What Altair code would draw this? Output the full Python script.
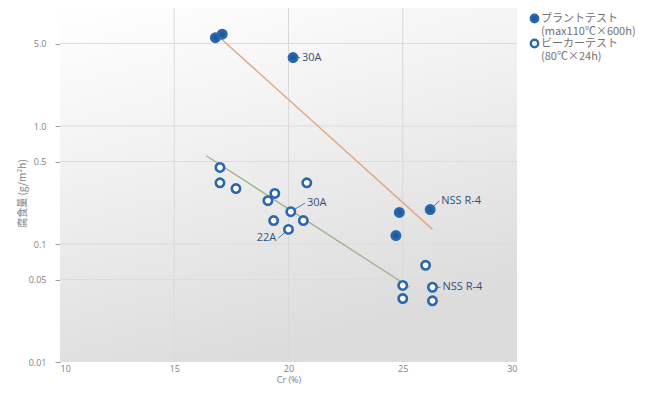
import altair as alt
import pandas as pd

W, H = 457, 354

# ---- data ----
series_names = ["プラントテスト|(max110℃×600h)", "ビーカーテスト|(80℃×24h)"]

plant_cr = [16.8, 17.1, 20.2, 24.85, 26.2, 24.7]
plant_loss = [5.6, 6.0, 3.8, 0.185, 0.196, 0.118]

beaker_cr = [17.0, 17.0, 17.7, 19.1, 19.4, 20.8, 20.1, 19.35, 20.65, 20.0,
             26.0, 25.0, 25.0, 26.3, 26.3]
beaker_loss = [0.445, 0.33, 0.295, 0.233, 0.268, 0.33, 0.188, 0.158, 0.158, 0.133,
               0.066, 0.0445, 0.0345, 0.043, 0.033]

trend_series = [series_names[0], series_names[0], series_names[1], series_names[1]]
trend_cr = [17.0, 26.3, 16.4, 25.3]
trend_loss = [5.6, 0.133, 0.56, 0.043]

ann_label = ["30A", "30A", "22A", "NSS R-4", "NSS R-4"]
ann_px = [20.2, 20.1, 20.0, 26.2, 26.3]
ann_py = [3.8, 0.188, 0.133, 0.196, 0.043]
ann_lx = [20.5, 20.72, 19.55, 26.6, 26.65]
ann_ly = [3.8, 0.222, 0.112, 0.232, 0.043]
ann_side = ["left", "left", "right", "left", "left"]

x_ticks = [10, 15, 20, 25, 30]
x_grid = [15, 20, 25]
y_ticks = [0.01, 0.05, 0.1, 0.5, 1.0, 5.0]
y_grid = [0.05, 0.1, 0.5, 1.0, 5.0]

# ---- tables ----
pts = pd.DataFrame({
    "cr": plant_cr + beaker_cr,
    "loss": plant_loss + beaker_loss,
    "series": [series_names[0]] * len(plant_cr) + [series_names[1]] * len(beaker_cr),
})
trend = pd.DataFrame({"cr": trend_cr, "loss": trend_loss, "series": trend_series})
ann = pd.DataFrame({"label": ann_label, "px": ann_px, "py": ann_py,
                    "lx": ann_lx, "ly": ann_ly, "side": ann_side})
xg = pd.DataFrame({"v": x_grid})
yg = pd.DataFrame({"v": y_grid})

xscale = alt.Scale(domain=[10, 30], nice=False, zero=False)
yscale = alt.Scale(type="log", domain=[0.01, 10], nice=False)

FONT = "Open Sans"
JFONT = "Noto Sans CJK JP"

xaxis = alt.Axis(values=x_ticks, grid=False, domain=False, ticks=False,
                 labelPadding=2, labelFontSize=9, labelColor="#808080", labelFont=FONT,
                 title="Cr (%)", titleFontSize=9, titleColor="#808080", titleFont=FONT,
                 titleFontWeight="normal", titlePadding=2)
yaxis = alt.Axis(values=y_ticks, grid=False, domain=False, tickSize=5, tickColor="#a0a0a0",
                 labelPadding=9, labelFontSize=9, labelColor="#808080", labelFont=FONT,
                 labelExpr="datum.value >= 1 ? format(datum.value, '.1f') : toString(datum.value)",
                 title="腐食量 (g/m²h)", titleFontSize=10, titleColor="#808080", titleFont=JFONT,
                 titleFontWeight="normal", titleX=-33, titleY=185)

bg = alt.Chart(pd.DataFrame({"a": [0]})).mark_rect(
    color=alt.Gradient(gradient="linear",
                       stops=[alt.GradientStop(color="#ffffff", offset=0),
                              alt.GradientStop(color="#f4f4f4", offset=0.35),
                              alt.GradientStop(color="#dcdcdc", offset=1)],
                       x1=0, y1=0, x2=0.35, y2=1)
).encode(x=alt.value(0), x2=alt.value(W), y=alt.value(0), y2=alt.value(H))

vgrid = alt.Chart(xg).mark_rule(color="#d9d9d9", strokeWidth=1).encode(
    x=alt.X("v:Q", scale=xscale, axis=xaxis))
hgrid = alt.Chart(yg).mark_rule(color="#dcdcdc", strokeWidth=1).encode(
    y=alt.Y("v:Q", scale=yscale, axis=yaxis))

line_plant = alt.Chart(trend).transform_filter(
    alt.datum.series == series_names[0]).mark_line(strokeWidth=1.4, color="#e3a77c").encode(
    x=alt.X("cr:Q", scale=xscale), y=alt.Y("loss:Q", scale=yscale))
line_beaker = alt.Chart(trend).transform_filter(
    alt.datum.series == series_names[1]).mark_line(strokeWidth=1.4, color="#9fb391").encode(
    x=alt.X("cr:Q", scale=xscale), y=alt.Y("loss:Q", scale=yscale))

leaders = alt.Chart(ann).mark_rule(color="#5a7393", strokeWidth=1).encode(
    x=alt.X("px:Q", scale=xscale), x2="lx:Q",
    y=alt.Y("py:Q", scale=yscale), y2="ly:Q")

points = alt.Chart(pts).mark_point(shape="circle", filled=False, opacity=1, size=70,
                                   stroke="#2a67ab", strokeWidth=2.6).encode(
    x=alt.X("cr:Q", scale=xscale),
    y=alt.Y("loss:Q", scale=yscale),
    fill=alt.Fill("series:N",
                  scale=alt.Scale(domain=series_names, range=["#1d5b9f", "#ffffff"]),
                  legend=alt.Legend(title=None, orient="none", legendX=469, legendY=5,
                                    labelExpr="split(datum.label, '|')",
                                    labelFont=JFONT, labelFontSize=11, labelColor="#707070",
                                    symbolStrokeColor="#2a67ab", symbolStrokeWidth=2.4,
                                    symbolSize=55, rowPadding=-3, labelOffset=1)),
)

txt_left = alt.Chart(ann).transform_filter("datum.side == 'left'").mark_text(
    align="left", baseline="middle", dx=2, font=FONT, fontSize=11, color="#34507a"
).encode(x=alt.X("lx:Q", scale=xscale), y=alt.Y("ly:Q", scale=yscale), text="label:N")
txt_right = alt.Chart(ann).transform_filter("datum.side == 'right'").mark_text(
    align="right", baseline="middle", dx=-2, font=FONT, fontSize=11, color="#34507a"
).encode(x=alt.X("lx:Q", scale=xscale), y=alt.Y("ly:Q", scale=yscale), text="label:N")

chart = alt.layer(bg, vgrid, hgrid, line_plant, line_beaker, leaders, points,
                  txt_left, txt_right).properties(
    width=W, height=H, autosize="none",
    padding={"left": 52, "top": 0, "right": 134, "bottom": 24},
).configure_view(stroke=None)

chart.save("out.html", embed_options={"renderer": "svg", "actions": False})
